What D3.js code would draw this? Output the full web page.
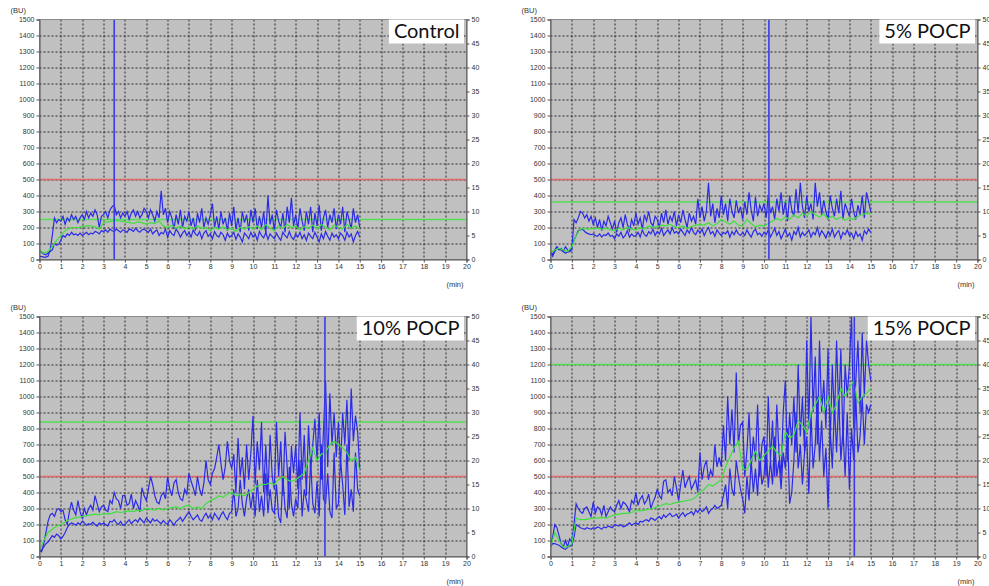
<!DOCTYPE html>
<html>
<head>
<meta charset="utf-8">
<script src="https://cdn.jsdelivr.net/npm/d3@7"></script>
<style>
  body { margin: 0; background: #fff; }
  svg { display: block; }
  .tick text, .unit { font-family: "Liberation Sans", Arial, sans-serif; }
  .tag { font-family: Lato, "Open Sans", sans-serif; }
</style>
</head>
<body>
<svg id="chart" width="989" height="586"></svg>
<script>
// sampling of the traces (minutes between points)
const FINE_STEP = 0.1;
const MID_STEP = 0.2;

const panelNames = ["Control", "5% POCP", "10% POCP", "15% POCP"];

// tick labels
const buTicks = [0,100,200,300,400,500,600,700,800,900,1000,1100,1200,1300,1400,1500];
const rightTicks = [0,5,10,15,20,25,30,35,40,45,50];
const minTicks = [0,1,2,3,4,5,6,7,8,9,10,11,12,13,14,15,16,17,18,19,20];

// reference lines (BU) and the vertical blue marker (min)
const limitLine = 500;
const targetLines = [250, 360, 840, 1200];
const spikeTimes = [3.5, 10.23, 13.37, 14.23];

// Control
const ctrlUpper = [
  20,18,15,15,20,60,150,260,230,250,
  240,270,220,260,240,280,250,270,230,260,
  280,250,300,260,290,270,310,280,200,270,
  280,300,260,310,330,340,280,300,260,290,
  270,300,250,290,310,270,300,260,280,320,
  300,260,310,280,240,300,260,430,280,320,
  230,300,260,190,280,220,310,200,270,240,
  300,210,260,180,290,230,320,200,260,220,
  280,350,200,270,190,300,220,260,180,290,
  210,330,190,260,170,300,230,280,180,310,
  230,320,190,270,200,300,160,400,220,280,
  180,310,240,200,290,170,330,230,385,210,
  280,190,320,240,180,300,220,330,170,290,
  210,340,180,260,310,200,280,230,320,190,
  280,220,330,170,300,250,190,320,230,280,
  200];
const ctrlLower = [
  60,45,35,30,40,50,60,100,90,95,
  120,150,140,160,150,170,155,160,150,165,
  150,160,170,155,165,160,175,170,160,180,
  175,185,170,190,180,175,190,180,170,185,
  180,170,190,185,175,195,180,170,185,190,
  180,170,190,160,175,185,150,170,160,190,
  140,180,160,150,190,170,140,165,180,150,
  170,140,185,160,150,175,130,165,180,145,
  160,130,175,150,140,170,155,120,165,140,
  150,170,125,160,140,110,165,150,130,170,
  140,160,120,175,150,135,170,125,160,145,
  130,165,140,120,170,150,135,175,140,125,
  160,140,170,130,155,120,165,145,130,170,
  140,110,160,130,175,145,120,165,140,155,
  130,165,150,120,170,140,160,110,150,175,
  140];
const ctrlMid = [
  60,40,50,80,120,
  150,180,195,200,200,
  205,210,210,205,190,
  230,235,240,245,240,
  235,230,225,235,230,
  220,230,225,240,210,
  200,215,195,210,190,
  205,190,210,195,200,
  180,200,190,205,185,
  195,175,200,190,205,
  190,210,185,220,195,
  180,210,195,220,200,
  210,185,205,195,215,
  190,220,200,185,215,
  200,190,220,195,210,
  190];

// 5% POCP
const p5Upper = [
  50,30,60,80,60,70,50,80,60,50,
  60,250,230,260,300,290,260,280,240,270,
  220,260,200,250,180,240,210,270,230,190,
  240,170,230,260,200,280,220,180,250,210,
  290,220,260,190,280,240,300,230,210,270,
  250,200,290,230,310,220,270,240,300,210,
  280,230,310,250,200,290,240,270,220,380,
  260,330,240,300,480,270,350,230,320,260,
  400,280,350,240,380,300,260,370,290,330,
  250,360,280,420,310,240,390,270,340,300,
  350,260,400,290,330,250,380,300,420,280,
  360,240,400,310,270,440,290,480,330,260,
  400,300,350,250,480,330,420,280,370,300,
  250,400,320,270,380,290,430,250,350,310,
  270,380,300,250,340,280,400,260,420,360,
  300];
const p5Lower = [
  50,20,50,70,65,60,50,40,45,50,
  80,120,150,180,185,190,175,165,160,155,
  160,150,145,160,140,155,150,165,145,150,
  130,160,145,170,135,150,180,140,160,145,
  150,170,140,185,155,145,175,160,190,150,
  175,160,195,150,170,185,160,200,165,175,
  160,190,170,150,185,165,200,170,155,185,
  165,190,150,180,200,160,175,145,185,165,
  150,170,160,180,140,175,155,185,160,150,
  170,150,185,160,140,175,190,155,165,145,
  170,155,185,140,165,195,150,175,130,160,
  190,145,165,120,175,155,200,140,170,150,
  165,185,140,170,155,200,145,180,160,135,
  175,150,190,140,165,180,130,170,155,185,
  150,165,130,175,145,160,120,180,160,190,
  170];
const p5Mid = [
  40,60,70,60,50,
  80,150,190,195,190,
  195,195,190,195,185,
  180,195,185,200,190,
  185,200,190,210,200,
  205,215,210,220,205,
  200,210,195,205,215,
  220,215,230,210,225,
  250,235,220,240,215,
  210,250,225,205,215,
  210,225,240,255,245,
  265,250,280,260,290,
  270,300,280,265,285,
  255,270,250,265,245,
  260,250,270,280,290,
  285];

// 10% POCP
const p10Upper = [
  40,30,80,150,220,260,270,250,290,300,
  280,290,230,200,280,340,290,260,350,280,
  240,300,260,300,320,290,380,330,280,310,
  320,290,280,350,330,400,360,350,300,380,
  380,320,330,390,300,350,320,280,430,380,
  350,420,500,450,380,340,330,380,400,360,
  500,420,380,460,480,400,360,350,420,390,
  520,470,430,380,500,420,380,460,600,480,
  450,520,550,620,700,580,480,560,720,600,
  550,640,400,740,500,620,420,700,480,650,
  880,450,720,540,840,400,700,380,760,500,
  420,840,500,720,380,780,560,300,690,520,
  700,420,900,480,760,380,820,540,700,860,
  600,900,480,780,1100,560,1020,700,900,620,
  840,560,900,700,980,600,1050,720,880,780,
  540];
const p10Lower = [
  30,40,60,80,90,110,130,120,140,130,
  110,125,150,180,200,210,205,195,210,200,
  220,210,195,205,200,215,200,190,210,200,
  210,200,190,220,215,230,210,200,220,195,
  200,215,230,205,220,230,215,240,225,210,
  240,225,210,235,220,230,215,205,225,210,
  200,230,215,195,220,230,245,220,240,260,
  280,250,230,245,260,230,220,250,270,240,
  260,230,270,250,230,260,280,250,230,270,
  280,420,250,300,480,330,250,360,420,300,
  400,250,480,280,380,250,520,270,420,290,
  270,450,250,210,500,300,240,560,330,250,
  360,300,600,250,420,350,280,600,330,270,
  470,250,700,360,330,520,280,240,650,300,
  330,600,450,260,700,310,420,280,650,420,
  380];
const p10Mid = [
  40,100,150,170,190,
  200,215,230,240,245,
  250,255,260,265,260,
  270,265,270,280,275,
  280,285,280,290,285,
  300,295,290,300,290,
  300,305,310,300,315,
  320,300,310,300,330,
  350,360,380,370,390,
  400,380,390,380,400,
  420,440,450,450,460,
  450,480,500,480,470,
  480,500,520,600,680,
  600,640,650,700,720,
  700,680,650,600,620,
  540];

// 15% POCP
const p15Upper = [
  60,120,200,180,130,80,60,100,60,110,
  90,200,330,300,280,270,300,310,280,250,
  340,270,310,300,260,320,250,280,310,290,
  280,320,350,300,340,330,310,280,350,330,
  400,320,360,380,330,350,390,300,340,370,
  420,380,360,470,480,400,420,380,500,430,
  350,450,540,430,470,500,420,450,480,400,
  650,480,560,600,480,540,500,700,560,620,
  560,820,600,1000,700,920,650,1150,700,820,
  840,500,660,900,550,750,600,950,500,700,
  750,500,1000,600,850,500,950,650,500,900,
  1100,600,900,700,1000,650,1200,750,1000,650,
  1350,800,1500,900,1250,700,1350,900,1100,800,
  1300,700,1200,850,1350,900,1300,700,1200,1000,
  1200,1500,800,1100,1350,900,1400,1000,1350,1200,
  1100];
const p15Lower = [
  60,80,80,75,70,60,50,45,60,65,
  70,120,200,190,180,175,170,180,175,170,
  180,175,185,180,170,185,180,190,185,180,
  200,195,190,200,185,190,200,210,195,205,
  210,200,220,215,225,230,220,240,235,225,
  240,250,235,260,245,260,270,250,255,265,
  240,260,275,250,265,270,280,260,290,275,
  300,280,290,310,270,290,300,320,300,310,
  320,380,450,300,550,420,380,600,500,420,
  360,270,500,350,600,400,550,380,650,450,
  500,700,430,600,450,750,500,600,420,650,
  550,800,330,400,600,900,550,700,450,650,
  750,390,900,550,700,1000,600,850,500,680,
  300,800,550,950,650,1000,600,800,500,900,
  420,800,600,1000,650,750,1000,700,950,900,
  950];
const p15Mid = [
  60,150,100,60,60,
  80,240,230,230,235,
  240,240,245,240,250,
  260,265,270,270,275,
  290,285,290,295,300,
  310,320,330,325,335,
  340,345,350,355,370,
  400,420,450,440,460,
  480,560,620,680,720,
  550,540,600,660,600,
  630,660,690,650,630,
  780,740,760,850,820,
  780,900,950,1000,900,
  1000,900,950,1050,1000,
  1050,1100,960,1000,1020,
  1050];

const uppers = [ctrlUpper, p5Upper, p10Upper, p15Upper];
const lowers = [ctrlLower, p5Lower, p10Lower, p15Lower];
const mids = [ctrlMid, p5Mid, p10Mid, p15Mid];

// where each panel's plot area sits
const layout = [
  { x: 39.5, y: 19.5 },
  { x: 550.5, y: 19.5 },
  { x: 39.5, y: 316.5 },
  { x: 550.5, y: 316.5 }
];
const W = 427, H = 240;

const svg = d3.select("#chart");
const fmt = d3.format("d");

function styleAxis(g) {
  g.select(".domain").attr("stroke", "#555");
  g.selectAll(".tick line").attr("stroke", "#555");
  g.selectAll(".tick text").attr("font-size", 7).attr("fill", "#333");
}

function drawPanel(i) {
  const pos = layout[i];
  const g = svg.append("g").attr("transform", `translate(${pos.x},${pos.y})`);

  const x = d3.scaleLinear().domain([0, 20]).range([0, W]);
  const y = d3.scaleLinear().domain([0, 1500]).range([H, 0]);
  const yR = d3.scaleLinear().domain([0, 50]).range([H, 0]);

  g.append("rect").attr("width", W).attr("height", H).attr("fill", "#c0c0c0");

  // dotted grid
  g.append("g").selectAll("line")
    .data(buTicks.filter(d => d > 0 && d < 1500))
    .join("line")
    .attr("x1", 0).attr("x2", W)
    .attr("y1", d => Math.round(y(d)) + 0.5).attr("y2", d => Math.round(y(d)) + 0.5)
    .attr("stroke", "#2a2a2a").attr("stroke-dasharray", "2,2");
  g.append("g").selectAll("line")
    .data(minTicks.filter(d => d > 0 && d < 20))
    .join("line")
    .attr("y1", 0).attr("y2", H)
    .attr("x1", d => Math.round(x(d)) + 0.5).attr("x2", d => Math.round(x(d)) + 0.5)
    .attr("stroke", "#2a2a2a").attr("stroke-dasharray", "2,2");

  const clipId = "clip" + i;
  g.append("clipPath").attr("id", clipId)
    .append("rect").attr("width", W).attr("height", H);
  const plot = g.append("g").attr("clip-path", `url(#${clipId})`);

  plot.append("line")
    .attr("x1", 0).attr("x2", W)
    .attr("y1", y(limitLine)).attr("y2", y(limitLine))
    .attr("stroke", "#e06a6a").attr("stroke-width", 1.5);
  plot.append("line")
    .attr("x1", 0).attr("x2", W)
    .attr("y1", y(targetLines[i])).attr("y2", y(targetLines[i]))
    .attr("stroke", "#55dd55").attr("stroke-width", 1.5);

  const fine = d3.line().x((d, k) => x(k * FINE_STEP)).y(d => y(d));
  const coarse = d3.line().x((d, k) => x(k * MID_STEP)).y(d => y(d));

  plot.append("path").datum(uppers[i]).attr("d", fine)
    .attr("fill", "none").attr("stroke", "#2a2ae8").attr("stroke-width", 1.2);
  plot.append("path").datum(lowers[i]).attr("d", fine)
    .attr("fill", "none").attr("stroke", "#2a2ae8").attr("stroke-width", 1.2);
  plot.append("path").datum(mids[i]).attr("d", coarse)
    .attr("fill", "none").attr("stroke", "#3ee03e").attr("stroke-width", 1.2);

  plot.append("line")
    .attr("x1", x(spikeTimes[i])).attr("x2", x(spikeTimes[i]))
    .attr("y1", y(0)).attr("y2", y(1500))
    .attr("stroke", "#3b3bea").attr("stroke-width", 1.6);

  g.append("rect").attr("width", W).attr("height", H)
    .attr("fill", "none").attr("stroke", "#8a8a8a");

  g.append("g")
    .call(d3.axisLeft(y).tickValues(buTicks).tickFormat(fmt).tickSize(3).tickPadding(2))
    .call(styleAxis);
  g.append("g").attr("transform", `translate(${W},0)`)
    .call(d3.axisRight(yR).tickValues(rightTicks).tickFormat(fmt).tickSize(3).tickPadding(2))
    .call(styleAxis);
  g.append("g").attr("transform", `translate(0,${H})`)
    .call(d3.axisBottom(x).tickValues(minTicks).tickFormat(fmt).tickSize(3).tickPadding(2))
    .call(styleAxis);

  g.append("text").attr("class", "unit")
    .attr("x", -29).attr("y", -7)
    .attr("font-size", 7.5).attr("fill", "#333").text("(BU)");
  g.append("text").attr("class", "unit")
    .attr("x", W - 3).attr("y", H + 27).attr("text-anchor", "end")
    .attr("font-size", 7.5).attr("fill", "#333").text("(min)");

  // sample name box, top right
  const tag = g.append("g");
  const label = tag.append("text").attr("class", "tag")
    .attr("x", W - 7).attr("y", 18.5).attr("text-anchor", "end")
    .attr("font-size", 20).attr("fill", "#111").text(panelNames[i]);
  const bb = label.node().getBBox();
  tag.insert("rect", "text")
    .attr("x", bb.x - 5).attr("y", 0)
    .attr("width", W - 2.5 - (bb.x - 5)).attr("height", 24)
    .attr("fill", "#fff");
}

panelNames.forEach((n, i) => drawPanel(i));
</script>
</body>
</html>
